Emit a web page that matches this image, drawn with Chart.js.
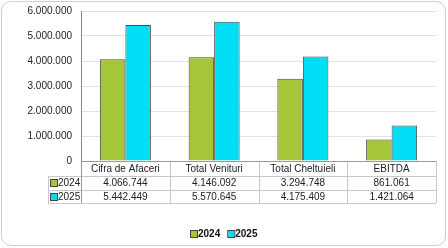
<!DOCTYPE html>
<html>
<head>
<meta charset="utf-8">
<script src="https://cdn.jsdelivr.net/npm/chart.js@4/dist/chart.umd.min.js"></script>
<style>
  html, body { margin: 0; padding: 0; background: #fff; }
  #wrap { position: relative; width: 448px; height: 248px; }
  #frame { position: absolute; left: 1px; top: 1px; width: 443px; height: 243px;
           border: 1px solid #cfcfcf; border-radius: 10px; }
  canvas { position: absolute; left: 0; top: 0; }
</style>
</head>
<body>
<div id="wrap">
  <div id="frame"></div>
  <canvas id="chart" width="448" height="248"></canvas>
</div>
<script>
const categories = ['Cifra de Afaceri', 'Total Venituri', 'Total Cheltuieli', 'EBITDA'];
const values2024 = [4066744, 4146092, 3294748, 861061];
const values2025 = [5442449, 5570645, 4175409, 1421064];
const seriesLabels = ['2024', '2025'];
const seriesColors = ['#a5c639', '#00def5'];

const FONT = 'Liberation Sans, Arial, sans-serif';

function fmt(v) {
  return String(Math.round(v)).replace(/\B(?=(\d{3})+(?!\d))/g, '.');
}

// data table under the plot plus the legend at the bottom
const tablePlugin = {
  id: 'dataTable',
  afterDraw(chart) {
    const { ctx, chartArea: a, scales: { x } } = chart;
    const n = categories.length;
    const colW = (a.right - a.left) / n;
    const top = a.bottom, r1 = top + 15, r2 = top + 29, bot = top + 42, left = 48;

    ctx.save();
    ctx.lineWidth = 1;
    ctx.strokeStyle = '#c8c8c8';
    const line = (x1, y1, x2, y2) => {
      ctx.beginPath();
      ctx.moveTo(x1, y1);
      ctx.lineTo(x2, y2);
      ctx.stroke();
    };
    line(left, r1 + 0.5, a.right, r1 + 0.5);
    line(left, r2 + 0.5, a.right, r2 + 0.5);
    line(left, bot + 0.5, a.right, bot + 0.5);
    line(left + 0.5, r1, left + 0.5, bot);
    for (let i = 1; i <= n; i++) {
      const bx = Math.round(a.left + i * colW) + 0.5;
      line(bx, top, bx, bot);
    }
    ctx.strokeStyle = '#999';
    line(a.left, top + 0.5, a.right, top + 0.5);
    line(a.left + 0.5, top, a.left + 0.5, bot);

    ctx.fillStyle = '#222';
    ctx.font = '10px ' + FONT;
    ctx.textAlign = 'center';
    ctx.textBaseline = 'middle';
    categories.forEach((c, i) => {
      const cx = x.getPixelForValue(i);
      ctx.fillText(c, cx, top + 8);
      ctx.fillText(fmt(values2024[i]), cx, r1 + 7);
      ctx.fillText(fmt(values2025[i]), cx, r2 + 7);
    });

    // series keys in the table
    [r1, r2].forEach((ry, k) => {
      ctx.fillStyle = seriesColors[k];
      ctx.fillRect(51, ry + 4, 6, 6);
      ctx.strokeStyle = '#444';
      ctx.strokeRect(50.5, ry + 3.5, 7, 7);
      ctx.fillStyle = '#222';
      ctx.textAlign = 'left';
      ctx.fillText(seriesLabels[k], 58, ry + 7);
    });

    // bottom legend
    ctx.font = 'bold 10px ' + FONT;
    const widths = seriesLabels.map(s => 7 + ctx.measureText(s).width);
    const gap = 8;
    let lx = Math.round(224 - (widths[0] + widths[1] + gap) / 2);
    const ly = 234;
    seriesLabels.forEach((s, k) => {
      ctx.fillStyle = seriesColors[k];
      ctx.fillRect(lx, ly - 3, 6, 6);
      ctx.strokeStyle = '#444';
      ctx.strokeRect(lx - 0.5, ly - 3.5, 7, 7);
      ctx.fillStyle = '#111';
      ctx.textAlign = 'left';
      ctx.fillText(s, lx + 7, ly);
      lx += widths[k] + gap;
    });
    ctx.restore();
  }
};

new Chart(document.getElementById('chart'), {
  type: 'bar',
  data: {
    labels: categories,
    datasets: [
      { label: seriesLabels[0], data: values2024, backgroundColor: seriesColors[0] },
      { label: seriesLabels[1], data: values2025, backgroundColor: seriesColors[1] }
    ]
  },
  options: {
    responsive: false,
    animation: false,
    layout: { padding: { left: 0, right: 12, top: 11, bottom: 87 } },
    datasets: {
      bar: {
        categoryPercentage: 0.575,
        barPercentage: 1,
        borderWidth: 1,
        borderColor: '#4a4a4a'
      }
    },
    plugins: {
      legend: { display: false },
      tooltip: { enabled: false }
    },
    scales: {
      x: { display: false },
      y: {
        min: 0,
        max: 6000000,
        afterFit: s => { s.width = 81; s.paddingTop = 0; s.paddingBottom = 0; },
        ticks: {
          stepSize: 1000000,
          padding: 9,
          color: '#222',
          font: { family: FONT, size: 10 },
          callback: v => fmt(v)
        },
        grid: { color: '#e2e2e2', drawTicks: false },
        border: { color: '#888' }
      }
    }
  },
  plugins: [tablePlugin]
});
</script>
</body>
</html>
